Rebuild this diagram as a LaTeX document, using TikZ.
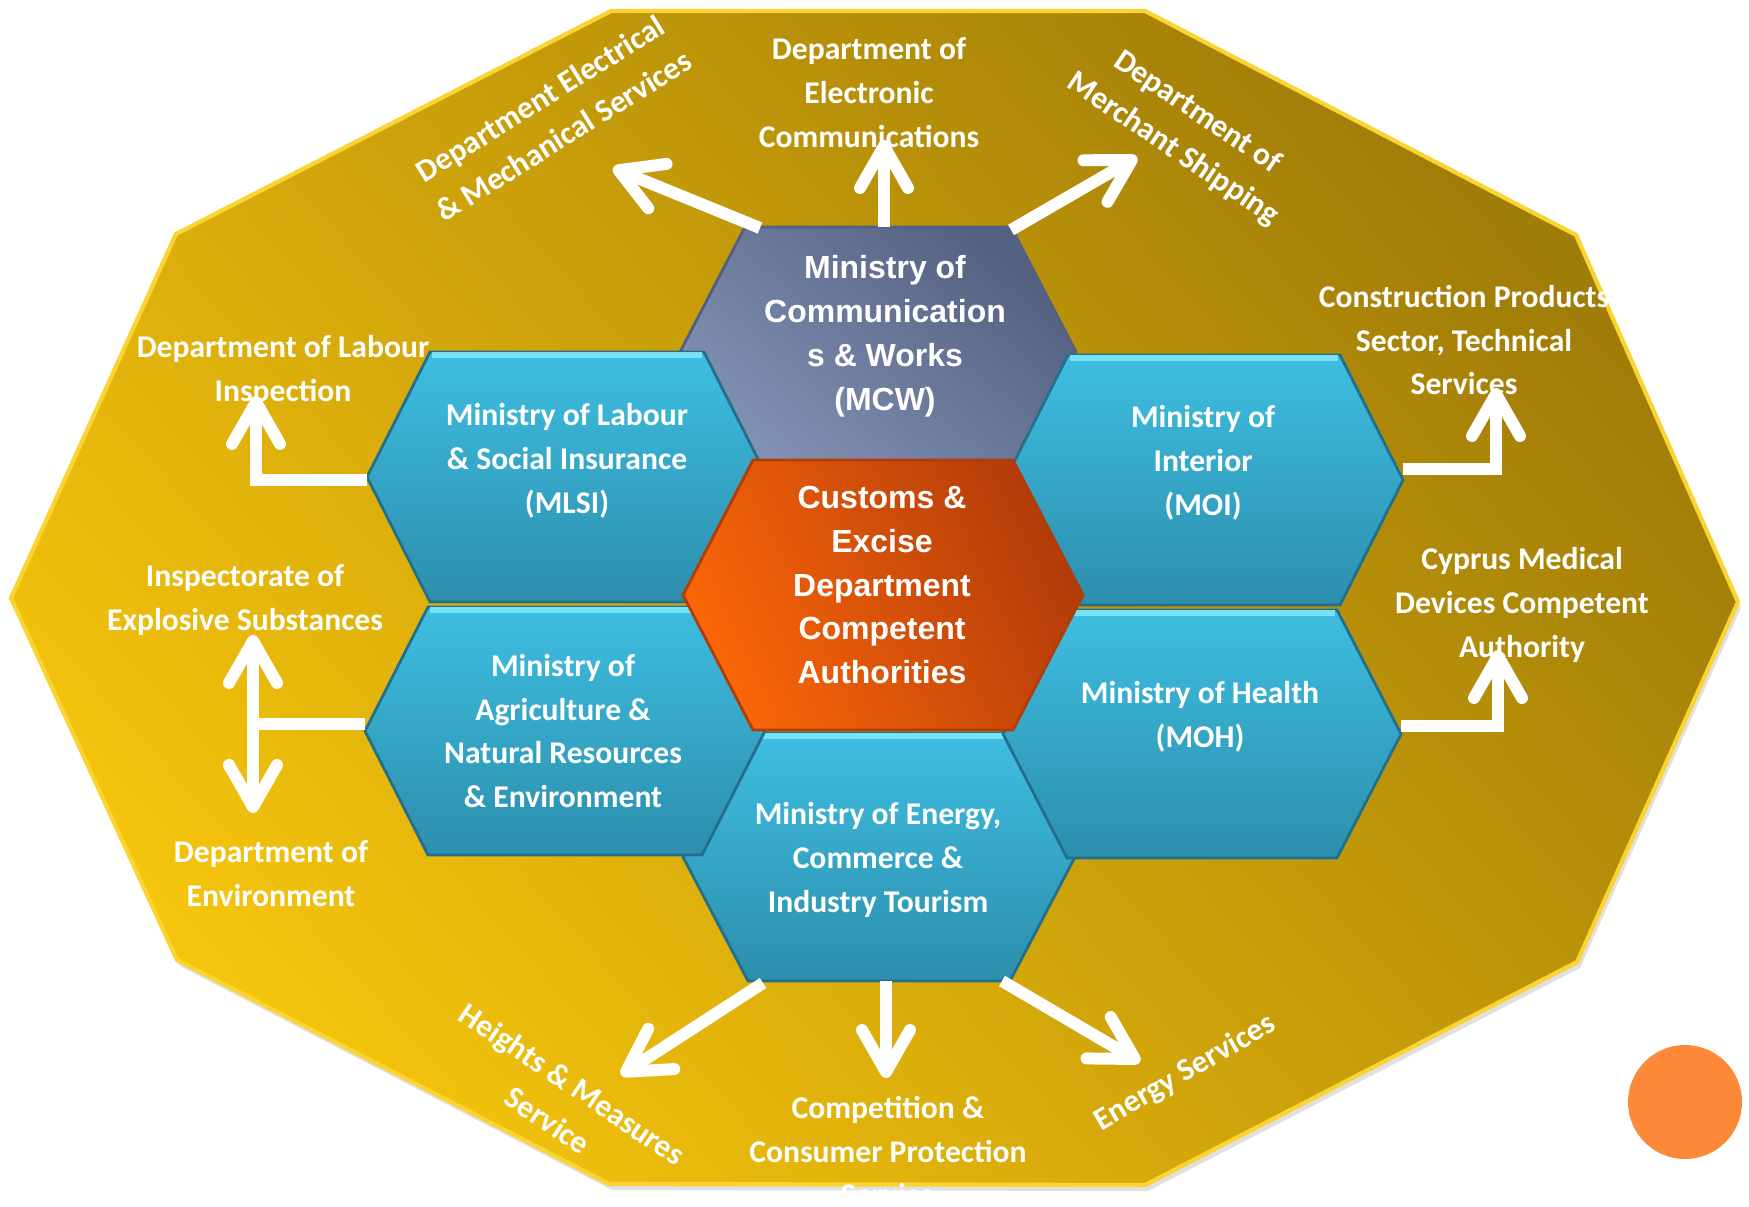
\documentclass[tikz,border=0pt]{standalone}
\usepackage{fontspec}
\setmainfont{Carlito}
\newfontfamily\arialfont{Liberation Sans}
\usetikzlibrary{arrows.meta}

\definecolor{goldbright}{RGB}{245,196,12}
\definecolor{golddark}{RGB}{160,124,8}
\definecolor{goldedge}{RGB}{250,212,50}
\definecolor{hexbluetop}{RGB}{62,190,225}
\definecolor{hexbluebot}{RGB}{44,142,172}
\definecolor{hexblueline}{RGB}{36,112,138}
\definecolor{hexbluelight}{RGB}{118,226,246}
\definecolor{mcwlight}{RGB}{130,146,182}
\definecolor{mcwdark}{RGB}{84,96,128}
\definecolor{ceorange}{RGB}{250,102,8}
\definecolor{ceorangedark}{RGB}{178,60,10}
\definecolor{dotorange}{RGB}{253,137,56}

\tikzset{
  outer/.style={draw=goldedge, line width=1.2pt, bottom color=goldbright, top color=golddark, shading angle=-48},
  bluehex/.style={draw=hexblueline, line width=0.8pt, top color=hexbluetop, bottom color=hexbluebot},
  mcwhex/.style={draw=mcwdark, line width=0.8pt, bottom color=mcwlight, top color=mcwdark, shading angle=-40},
  cehex/.style={draw=ceorangedark, line width=0.8pt, bottom color=ceorange, top color=ceorangedark, shading angle=-65},
  bevel/.style={draw=hexbluelight, line width=1.6pt},
  hextext/.style={text=white, align=center, inner sep=0pt, font=\fontsize{9}{12.5}\selectfont\bfseries},
  arialtext/.style={hextext, font=\arialfont\fontsize{9.1}{12.5}\selectfont\bfseries},
  outtext/.style={hextext},
  wline/.style={draw=white, line width=3.4pt},
  warrow/.style={wline, -{Straight Barb[length=4.2mm, width=4.8mm, round]}},
  wdouble/.style={wline, {Straight Barb[length=4.2mm, width=4.8mm, round]}-{Straight Barb[length=4.2mm, width=4.8mm, round]}}
}

\begin{document}
\begin{tikzpicture}[x=0.1mm,y=-0.1mm]
\useasboundingbox (0,0) rectangle (1749,1206);

% frame
\fill[black, opacity=.12, shift={(3,6)}] (611,11) -- (1145,11) -- (1576,235) -- (1738,602) -- (1577,962) -- (1145,1185) -- (609,1184) -- (177,960) -- (11,598) -- (176,234) -- cycle;
\draw[outer] (611,11) -- (1145,11) -- (1576,235) -- (1738,602) -- (1577,962) -- (1145,1185) -- (609,1184) -- (177,960) -- (11,598) -- (176,234) -- cycle;

% hexagons
\draw[mcwhex] (680,352) -- (745,227) -- (1011,227) -- (1076,352) -- (1011,477) -- (745,477) -- cycle;
\draw[bluehex] (683,857) -- (748,733) -- (1010,733) -- (1075,857) -- (1010,981) -- (748,981) -- cycle;
\draw[bevel] (750,736) -- (1008,736);
\draw[bluehex] (367,477) -- (430,352) -- (704,352) -- (767,477) -- (704,602) -- (430,602) -- cycle;
\draw[bevel] (432,355) -- (702,355);
\draw[bluehex] (365,731) -- (428,607) -- (702,607) -- (765,731) -- (702,855) -- (428,855) -- cycle;
\draw[bevel] (430,610) -- (700,610);
\draw[bluehex] (1005,480) -- (1068,355) -- (1340,355) -- (1403,480) -- (1340,605) -- (1068,605) -- cycle;
\draw[bevel] (1070,358) -- (1338,358);
\draw[bluehex] (1003,734) -- (1067,610) -- (1337,610) -- (1401,734) -- (1337,858) -- (1067,858) -- cycle;
\draw[bevel] (1069,613) -- (1335,613);
\draw[cehex] (683,595) -- (753,460) -- (1013,460) -- (1083,595) -- (1013,730) -- (753,730) -- cycle;

% hexagon texts
\node[arialtext] (MCW) at (885,336) {Ministry of\\Communication\\s \& Works\\(MCW)};
\node[arialtext] (CED) at (882,585) {Customs \&\\Excise\\Department\\Competent\\Authorities};
\node[hextext] (MLSI) at (567,461) {Ministry of Labour\\\& Social Insurance\\(MLSI)};
\node[hextext] (AGR) at (563,731) {Ministry of\\Agriculture \&\\Natural Resources\\\& Environment};
\node[hextext] (MOI) at (1203,463) {Ministry of\\Interior\\(MOI)};
\node[hextext] (MOH) at (1200,717) {Ministry of Health\\(MOH)};
\node[hextext] (MEC) at (878,860) {Ministry of Energy,\\Commerce \&\\Industry Tourism};

% departments
\node[outtext] (DLI) at (283,371) {Department of Labour\\Inspection};
\node[outtext] (IES) at (245,600) {Inspectorate of\\Explosive Substances};
\node[outtext] (DOE) at (271,874) {Department of\\Environment};
\node[outtext] (CPS) at (1464,340) {Construction Products\\Sector, Technical\\Services};
\node[outtext] (CMD) at (1522,605) {Cyprus Medical\\Devices Competent\\Authority};
\node[outtext] (DEC) at (869,93) {Department of\\Electronic\\Communications};
\node[outtext] (CCP) at (888,1151) {Competition \&\\Consumer Protection\\Service};
\node[outtext, rotate=32] (EMS) at (552,117) {Department Electrical\\\& Mechanical Services};
\node[outtext, rotate=-34] (DMS) at (1185,131) {Department of\\Merchant Shipping};
\node[outtext, rotate=-34] (HMS) at (560,1102) {Heights \& Measures\\Service};
\node[outtext, rotate=30] (ES) at (1185,1073) {Energy Services};

% arrow ends
\coordinate (MCW_topleft) at (760,228);
\coordinate (MCW_top) at (884,227);
\coordinate (MCW_topright) at (1011,230);
\coordinate (MLSI_left) at (367,480);
\coordinate (AGR_left) at (365,724);
\coordinate (MOI_right) at (1403,469);
\coordinate (MOH_right) at (1401,726);
\coordinate (MEC_botleft) at (763,983);
\coordinate (MEC_bot) at (886,981);
\coordinate (MEC_botright) at (1002,981);
\coordinate (EMS_tip) at (613,168);
\coordinate (DEC_tip) at (884,140);
\coordinate (DMS_tip) at (1137,157);
\coordinate (v1) at (256,480);
\coordinate (DLI_tip) at (256,396);
\coordinate (v2) at (253,724);
\coordinate (IES_tip) at (253,635);
\coordinate (DOE_tip) at (253,813);
\coordinate (v3) at (1496,469);
\coordinate (CPS_tip) at (1496,388);
\coordinate (v4) at (1498,726);
\coordinate (CMD_tip) at (1498,650);
\coordinate (HMS_tip) at (621,1075);
\coordinate (CCP_tip) at (886,1078);
\coordinate (ES_tip) at (1140,1062);

\draw[warrow] (MCW_topleft) -- (EMS_tip);
\draw[warrow] (MCW_top) -- (DEC_tip);
\draw[warrow] (MCW_topright) -- (DMS_tip);
\draw[warrow] (MLSI_left) -- (v1) -- (DLI_tip);
\draw[wline] (AGR_left) -- (v2);
\draw[wdouble] (IES_tip) -- (DOE_tip);
\draw[warrow] (MOI_right) -- (v3) -- (CPS_tip);
\draw[warrow] (MOH_right) -- (v4) -- (CMD_tip);
\draw[warrow] (MEC_botleft) -- (HMS_tip);
\draw[warrow] (MEC_bot) -- (CCP_tip);
\draw[warrow] (MEC_botright) -- (ES_tip);

\fill[dotorange] (1685,1102) circle[radius=5.7mm];
\end{tikzpicture}
\end{document}
